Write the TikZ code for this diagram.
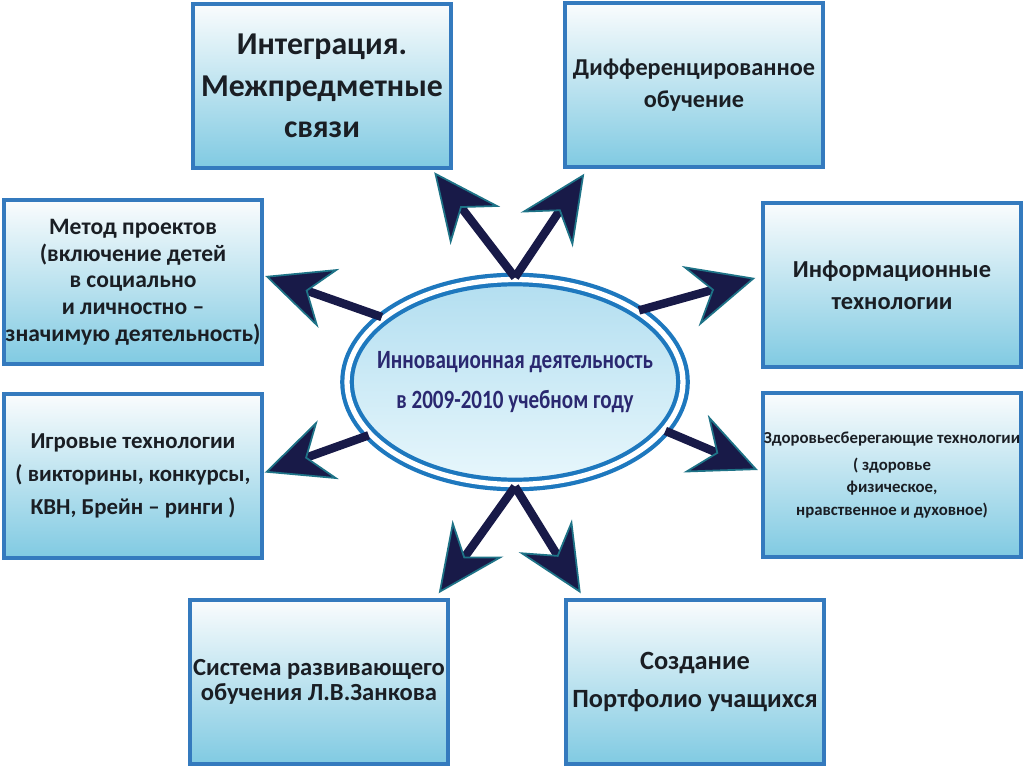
\documentclass[tikz,border=0pt]{standalone}
\usepackage{fontspec}
\setmainfont{Carlito}
\newfontfamily\corefont[FakeStretch=0.8]{Carlito}
\usetikzlibrary{shapes.geometric,arrows.meta}

\definecolor{boxline}{RGB}{52,122,190}
\definecolor{boxtop}{RGB}{250,252,253}
\definecolor{boxbottom}{RGB}{128,202,226}
\definecolor{ringblue}{RGB}{30,120,190}
\definecolor{coretop}{RGB}{178,222,240}
\definecolor{corebottom}{RGB}{232,247,252}
\definecolor{arrownavy}{RGB}{24,26,72}
\definecolor{arrowteal}{RGB}{30,115,135}
\definecolor{coretext}{RGB}{42,40,112}
\definecolor{boxtext}{RGB}{26,30,36}

\tikzset{
  topic/.style={draw=boxline, line width=2pt, top color=boxtop, bottom color=boxbottom,
    minimum width=5.16cm, minimum height=3.28cm, align=center, text=boxtext,
    inner sep=0pt},
  core/.style={ellipse, draw=ringblue, line width=2.4pt, double=white, double distance=3pt,
    top color=coretop, bottom color=corebottom, minimum width=6.72cm, minimum height=4.1cm,
    inner xsep=-0.6cm, inner ysep=0pt, align=center, text=coretext,
    font={\corefont\bfseries\fontsize{15}{22.7}\selectfont}},
  flow/.style={draw=arrownavy, line width=4.8pt,
    -{Stealth[length=1.35cm, width=1.25cm, inset=0.45cm, line width=1pt, color=arrowteal, fill=arrownavy]}}
}

\begin{document}
\begin{tikzpicture}[x=0.02cm,y=-0.02cm]
    \useasboundingbox (0,0) rectangle (1024,767);

    \node[core] (core) at (515,382) {Инновационная деятельность\\в 2009-2010 учебном году};

    \node[topic, font={\bfseries\fontsize{18.1}{23.5}\selectfont}] (integ) at (322,86) {Интеграция.\\Межпредметные\\связи};
    \node[topic, font={\bfseries\fontsize{13.8}{18}\selectfont}] (diff) at (694,85) {Дифференцированное\\обучение};
    \node[topic, font={\bfseries\fontsize{13.4}{15.2}\selectfont}] (proj) at (133,282) {Метод проектов\\(включение детей\\в социально\\и личностно –\\значимую деятельность)};
    \node[topic, font={\bfseries\fontsize{13.9}{18}\selectfont}] (info) at (892,285) {Информационные\\технологии};
    \node[topic, font={\bfseries\fontsize{13}{19}\selectfont}] (game) at (133,476) {Игровые технологии\\( викторины, конкурсы,\\КВН, Брейн – ринги )};
    \node[topic, font={\bfseries\fontsize{9.55}{12.7}\selectfont}] (health) at (892,475) {Здоровьесберегающие технологии\\[2.5pt]( здоровье\\физическое,\\нравственное и духовное)};
    \node[topic, font={\bfseries\fontsize{14}{14.5}\selectfont}] (zank) at (319,682) {Система развивающего\\обучения Л.В.Занкова};
    \node[topic, font={\bfseries\fontsize{15}{21.5}\selectfont}] (port) at (695,682) {Создание\\Портфолио учащихся};

    \draw[flow] (core.north) -- ([xshift=-0.37cm,yshift=-0.05cm]integ.south east);
    \draw[flow] (core.north) -- ([xshift=0.42cm,yshift=-0.1cm]diff.south west);
    \draw[flow] (core.154) -- ([xshift=0.03cm,yshift=0.12cm]proj.east);
    \draw[flow] (core.30) -- ([xshift=-0.12cm,yshift=0.14cm]info.west);
    \draw[flow] (core.200) -- ([xshift=0.02cm,yshift=0.07cm]game.east);
    \draw[flow] (core.-18) -- ([xshift=-0.07cm,yshift=0.1cm]health.west);
    \draw[flow] (core.south) -- ([xshift=-0.22cm,yshift=0.1cm]zank.north east);
    \draw[flow] (core.south) -- ([xshift=0.33cm,yshift=0.1cm]port.north west);
\end{tikzpicture}
\end{document}
